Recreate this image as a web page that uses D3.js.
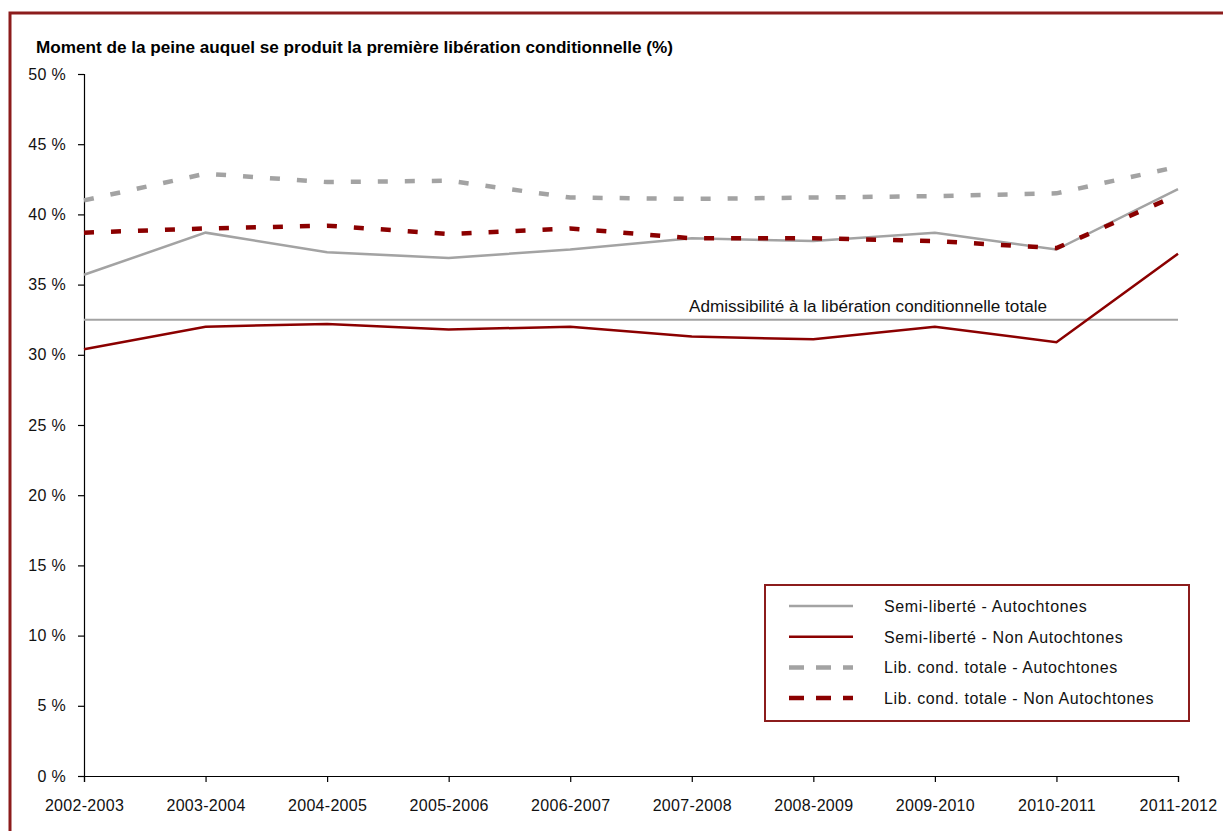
<!DOCTYPE html>
<html>
<head>
<meta charset="utf-8">
<script src="https://cdn.jsdelivr.net/npm/d3@7"></script>
<style>
  body { margin: 0; background: #fff; }
  svg { display: block; font-family: "Liberation Sans", Arial, sans-serif; }
</style>
</head>
<body>
<div id="chart"></div>
<script>
// years of the chart
var years = ['2002-2003', '2003-2004', '2004-2005', '2005-2006', '2006-2007',
             '2007-2008', '2008-2009', '2009-2010', '2010-2011', '2011-2012'];

// values (%)
var semiAutochtones     = [35.7, 38.7, 37.3, 36.9, 37.5, 38.3, 38.1, 38.7, 37.5, 41.8];
var semiNonAutochtones  = [30.4, 32.0, 32.2, 31.8, 32.0, 31.3, 31.1, 32.0, 30.9, 37.2];
var totaleAutochtones   = [41.0, 42.9, 42.3, 42.4, 41.2, 41.1, 41.2, 41.3, 41.5, 43.4];
var totaleNonAutochtones = [38.7, 39.0, 39.2, 38.6, 39.0, 38.3, 38.3, 38.1, 37.6, 41.4];
var admissibilite = 32.5;

var yTicks = [0, 5, 10, 15, 20, 25, 30, 35, 40, 45, 50];

var chartTitle = 'Moment de la peine auquel se produit la première libération conditionnelle (%)';
var admissLabel = 'Admissibilité à la libération conditionnelle totale';

var GRAY = '#a3a3a3', RED = '#8b0000', FRAME = '#8c1c1c';

var series = [
  { name: 'Semi-liberté - Autochtones', values: semiAutochtones, color: GRAY, dashed: false },
  { name: 'Semi-liberté - Non Autochtones', values: semiNonAutochtones, color: RED, dashed: false },
  { name: 'Lib. cond. totale - Autochtones', values: totaleAutochtones, color: GRAY, dashed: true },
  { name: 'Lib. cond. totale - Non Autochtones', values: totaleNonAutochtones, color: RED, dashed: true }
];

var width = 1223, height = 831;

var svg = d3.select('#chart').append('svg')
  .attr('width', width)
  .attr('height', height);

// frame around the chart
svg.append('rect')
  .attr('x', 10).attr('y', 13)
  .attr('width', width + 10).attr('height', height + 10)
  .attr('fill', '#fff')
  .attr('stroke', FRAME)
  .attr('stroke-width', 3);

var x = d3.scalePoint().domain(years).range([84, 1178]);
var y = d3.scaleLinear().domain([0, 50]).range([776, 74]);

// title
svg.append('text')
  .attr('x', 36).attr('y', 53)
  .attr('font-size', 16).attr('font-weight', 'bold')
  .attr('textLength', 637).attr('lengthAdjust', 'spacingAndGlyphs')
  .attr('fill', '#000')
  .text(chartTitle);

// axes
var yAxis = svg.append('g')
  .attr('transform', 'translate(84,0)')
  .call(d3.axisLeft(y).tickValues(yTicks).tickSize(6).tickPadding(12)
    .tickFormat(function (d) { return d + ' %'; }));

var xAxis = svg.append('g')
  .attr('transform', 'translate(0,776)')
  .call(d3.axisBottom(x).tickSize(6).tickPadding(18));

[yAxis, xAxis].forEach(function (g) {
  g.selectAll('text').attr('font-size', 16).attr('fill', '#111')
    .attr('letter-spacing', 0.3)
    .attr('font-family', '"Liberation Sans", Arial, sans-serif');
  g.selectAll('line, path').attr('stroke', '#000').attr('stroke-width', 1.2);
});

// admissibility line
svg.append('line')
  .attr('x1', x(years[0])).attr('x2', x(years[years.length - 1]))
  .attr('y1', y(admissibilite)).attr('y2', y(admissibilite))
  .attr('stroke', GRAY).attr('stroke-width', 2);

svg.append('text')
  .attr('x', 689).attr('y', y(admissibilite) - 8)
  .attr('font-size', 16).attr('fill', '#111')
  .attr('textLength', 358).attr('lengthAdjust', 'spacingAndGlyphs')
  .text(admissLabel);

// series lines
var line = d3.line()
  .x(function (d, i) { return x(years[i]); })
  .y(function (d) { return y(d); });

series.forEach(function (s) {
  svg.append('path')
    .datum(s.values)
    .attr('d', line)
    .attr('fill', 'none')
    .attr('stroke', s.color)
    .attr('stroke-width', s.dashed ? 4.5 : 2.5)
    .attr('stroke-dasharray', s.dashed ? '10,17' : null);
});

// legend
var legend = svg.append('g');
legend.append('rect')
  .attr('x', 765).attr('y', 585)
  .attr('width', 424).attr('height', 136)
  .attr('fill', '#fff')
  .attr('stroke', FRAME).attr('stroke-width', 2);

series.forEach(function (s, i) {
  var ly = 606 + i * 30.7;
  legend.append('line')
    .attr('x1', 789).attr('x2', 853)
    .attr('y1', ly).attr('y2', ly)
    .attr('stroke', s.color)
    .attr('stroke-width', s.dashed ? 4.5 : 2.5)
    .attr('stroke-dasharray', s.dashed ? '15,12' : null);
  legend.append('text')
    .attr('x', 884).attr('y', ly + 6)
    .attr('font-size', 16).attr('fill', '#111')
    .attr('letter-spacing', 0.6)
    .text(s.name);
});
</script>
</body>
</html>
